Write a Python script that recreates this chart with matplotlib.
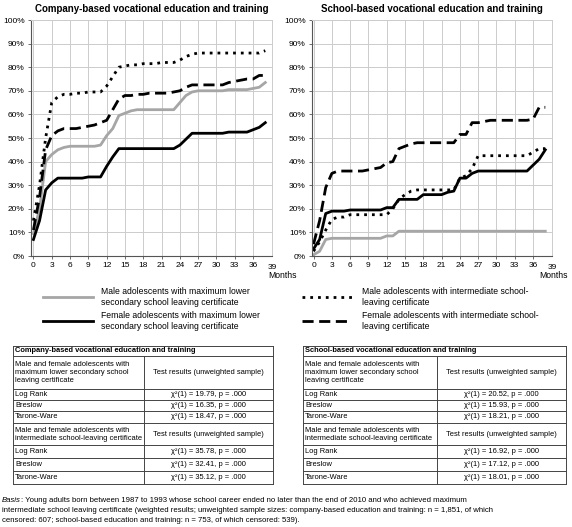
import matplotlib
matplotlib.use('agg')
import matplotlib.pyplot as plt
from matplotlib.lines import Line2D

plt.rcParams['font.family'] = ['Liberation Sans', 'DejaVu Sans']

months = list(range(39))
xticks = list(range(0, 37, 3))

# company-based, values in percent, one per month 0..38
comp_male_lower = [9.5, 20, 40, 43, 45, 46, 46.5, 46.5, 46.5, 46.5, 46.5, 47, 51, 54, 59.5, 60.5,
                   61.5, 62, 62, 62, 62, 62, 62, 62, 65, 68, 69.5, 70, 70, 70, 70, 70, 70.5, 70.5,
                   70.5, 70.5, 71, 71.5, 73.5]
comp_female_lower = [7, 15, 28, 31, 33, 33, 33, 33, 33, 33.5, 33.5, 33.5, 38, 42, 45.5, 45.5,
                     45.5, 45.5, 45.5, 45.5, 45.5, 45.5, 45.5, 45.5, 47, 49.5, 52, 52, 52, 52, 52,
                     52, 52.5, 52.5, 52.5, 52.5, 53.5, 54.5, 56.5]
comp_male_inter = [15, 30, 50, 65, 67.5, 68.5, 68.5, 69, 69, 69.5, 69.5, 69.5, 72, 76, 80, 80.5,
                   81, 81, 81.5, 81.5, 81.5, 82, 82, 82, 83, 84.5, 85.5, 86, 86, 86, 86, 86, 86,
                   86, 86, 86, 86, 86, 87]
comp_female_inter = [11, 25, 45, 51, 53, 54, 54, 54, 54.5, 55, 55.5, 56.5, 57.5, 62, 66.5, 68,
                     68, 68.5, 68.5, 69, 69, 69, 69, 69.5, 70, 71.5, 72.5, 72.5, 72.5, 72.5, 72.5,
                     72.5, 73.5, 74, 74.5, 75, 75, 76.5, 76.5]

# school-based
school_male_lower = [0.5, 2, 7, 7.5, 7.5, 7.5, 7.5, 7.5, 7.5, 7.5, 7.5, 7.5, 8.5, 8.5, 10.5, 10.5,
                     10.5, 10.5, 10.5, 10.5, 10.5, 10.5, 10.5, 10.5, 10.5, 10.5, 10.5, 10.5, 10.5,
                     10.5, 10.5, 10.5, 10.5, 10.5, 10.5, 10.5, 10.5, 10.5, 10.5]
school_female_lower = [3, 7, 18, 19, 19, 19, 19.5, 19.5, 19.5, 19.5, 19.5, 19.5, 20.5, 20.5, 24,
                       24, 24, 24, 26, 26, 26, 26, 27, 27.5, 33, 33, 35, 36, 36, 36, 36, 36, 36,
                       36, 36, 36, 38.5, 41, 45]
school_male_inter = [2, 6, 11, 15.5, 16.5, 16.5, 17.5, 17.5, 17.5, 17.5, 17.5, 17.5, 17.5, 20, 24,
                     26, 27.5, 28, 28, 28, 28, 28, 28, 28, 33, 34, 37, 42.5, 42.5, 42.5, 42.5,
                     42.5, 42.5, 42.5, 42.5, 42.5, 44, 45.5, 45.5]
school_female_inter = [5, 15, 29, 35, 36, 36, 36, 36, 36, 36.5, 37, 37.5, 39.5, 40, 45.5, 46.5,
                       47.5, 48, 48, 48, 48, 48, 48, 48, 51.5, 51.5, 56.5, 56.5, 57, 57.5, 57.5,
                       57.5, 57.5, 57.5, 57.5, 57.5, 58, 63, 63]

legend_labels = ['Male adolescents with maximum lower\nsecondary school leaving certificate',
                 'Female adolescents with maximum lower\nsecondary school leaving certificate',
                 'Male adolescents with intermediate school-\nleaving certificate',
                 'Female adolescents with intermediate school-\nleaving certificate']

group_lower = 'Male and female adolescents with\nmaximum lower secondary school\nleaving certificate'
group_inter = 'Male and female adolescents with\nintermediate school-leaving certificate'
tests = ['Log Rank', 'Breslow', 'Tarone-Ware']
comp_lower_chi = [19.79, 16.35, 18.47]
comp_inter_chi = [35.78, 32.41, 35.12]
school_lower_chi = [20.52, 15.93, 18.21]
school_inter_chi = [16.92, 17.12, 18.01]

basis_lines = [': Young adults born between 1987 to 1993 whose school career ended no later '
               'than the end of 2010 and who achieved maximum',
               'intermediate school leaving certificate (weighted results; unweighted sample sizes: '
               'company-based education and training: n = 1,851, of which',
               'censored: 607; school-based education and training: n = 753, of which censored: 539).']

W, H = 572, 527
fig = plt.figure(figsize=(W / 100, H / 100), dpi=100)

styles = [dict(color='#a6a6a6', lw=2.0, ls='-'),
          dict(color='black', lw=2.0, ls='-'),
          dict(color='black', lw=2.0, ls=(0, (1, 1.8))),
          dict(color='black', lw=2.0, ls=(0, (4, 2)))]


def px_axes(x0, x1, y0, y1):
    return fig.add_axes([x0 / W, 1 - y1 / H, (x1 - x0) / W, (y1 - y0) / H])


def plot_chart(ax, series, title, xmin):
    for s, st in zip(series, styles):
        ax.plot(months, s, **st)
    ax.set_xlim(xmin, 39.1)
    ax.set_ylim(0, 100)
    ax.set_xticks(xticks)
    ax.set_yticks(range(0, 101, 10))
    ax.set_yticklabels(['%d%%' % v for v in range(0, 101, 10)])
    ax.grid(True, color='#cccccc', lw=0.7)
    ax.set_axisbelow(True)
    ax.tick_params(labelsize=6, length=2.5, width=0.6, color='#555555', pad=2)
    for side in ['left', 'bottom']:
        ax.spines[side].set_color('#555555')
        ax.spines[side].set_linewidth(0.8)
    for side in ['top', 'right']:
        ax.spines[side].set_color('#cccccc')
        ax.spines[side].set_linewidth(0.7)
    ax.text(39.1, -3.5, '39', fontsize=6, ha='center', va='top', clip_on=False)
    ax.set_title(title, fontsize=7, fontweight='bold', pad=6)


ax1 = px_axes(31, 272, 20, 256)
plot_chart(ax1, [comp_male_lower, comp_female_lower, comp_male_inter, comp_female_inter],
           'Company-based vocational education and training', -0.4)
ax2 = px_axes(312, 552, 20, 256)
plot_chart(ax2, [school_male_lower, school_female_lower, school_male_inter, school_female_inter],
           'School-based vocational education and training', -0.25)

# overlay in pixel coordinates for legend, tables and note
ov = fig.add_axes([0, 0, 1, 1])
ov.set_xlim(0, W)
ov.set_ylim(H, 0)
ov.axis('off')

ov.text(268, 276, 'Months', fontsize=6.2, va='center')
ov.text(539, 276, 'Months', fontsize=6.2, va='center')

leg_pos = [(43, 93, 101, 297), (43, 93, 101, 321), (302, 352, 362, 297), (302, 352, 362, 321)]
for (x0, x1, tx, y), st, lab in zip(leg_pos, styles, legend_labels):
    ov.add_line(Line2D([x0, x1], [y, y], **st))
    ov.text(tx, y, lab, fontsize=6.2, va='center', linespacing=1.25)

row_h = [10, 33, 11, 11, 12, 22, 13, 13, 13]


def draw_table(x0, xs, x1, top, title, lower, inter):
    ys = [top]
    for h in row_h:
        ys.append(ys[-1] + h)
    lc = '#444444'
    for y in ys:
        ov.add_line(Line2D([x0, x1], [y, y], color=lc, lw=0.7))
    ov.add_line(Line2D([x0, x0], [ys[0], ys[-1]], color=lc, lw=0.7))
    ov.add_line(Line2D([x1, x1], [ys[0], ys[-1]], color=lc, lw=0.7))
    ov.add_line(Line2D([xs, xs], [ys[1], ys[-1]], color=lc, lw=0.7))
    mid = lambda i: (ys[i] + ys[i + 1]) / 2
    cx = (xs + x1) / 2
    fs = 5.4
    ov.text(x0 + 2, mid(0), title, fontsize=fs, fontweight='bold', va='center')
    rows = [(group_lower, 'Test results (unweighted sample)')]
    rows += [(t, 'χ²(1) = %.2f, p = .000' % v) for t, v in zip(tests, lower)]
    rows += [(group_inter, 'Test results (unweighted sample)')]
    rows += [(t, 'χ²(1) = %.2f, p = .000' % v) for t, v in zip(tests, inter)]
    for i, (a, b) in enumerate(rows):
        ov.text(x0 + 2, mid(i + 1), a, fontsize=fs, va='center', linespacing=1.2)
        ov.text(cx, mid(i + 1), b, fontsize=fs, va='center', ha='center')


draw_table(13, 144, 273, 346, 'Company-based vocational education and training',
           comp_lower_chi, comp_inter_chi)
draw_table(303, 437, 566, 346, 'School-based vocational education and training',
           school_lower_chi, school_inter_chi)

# note below the tables, "Basis" in italics
fig.canvas.draw()
b = ov.text(2, 501, 'Basis', fontsize=5.6, style='italic', va='center')
bw = b.get_window_extent(fig.canvas.get_renderer()).width
ov.text(2 + bw, 501, basis_lines[0], fontsize=5.6, va='center')
ov.text(2, 511, basis_lines[1], fontsize=5.6, va='center')
ov.text(2, 521, basis_lines[2], fontsize=5.6, va='center')

fig.savefig('out.png', dpi=100)
